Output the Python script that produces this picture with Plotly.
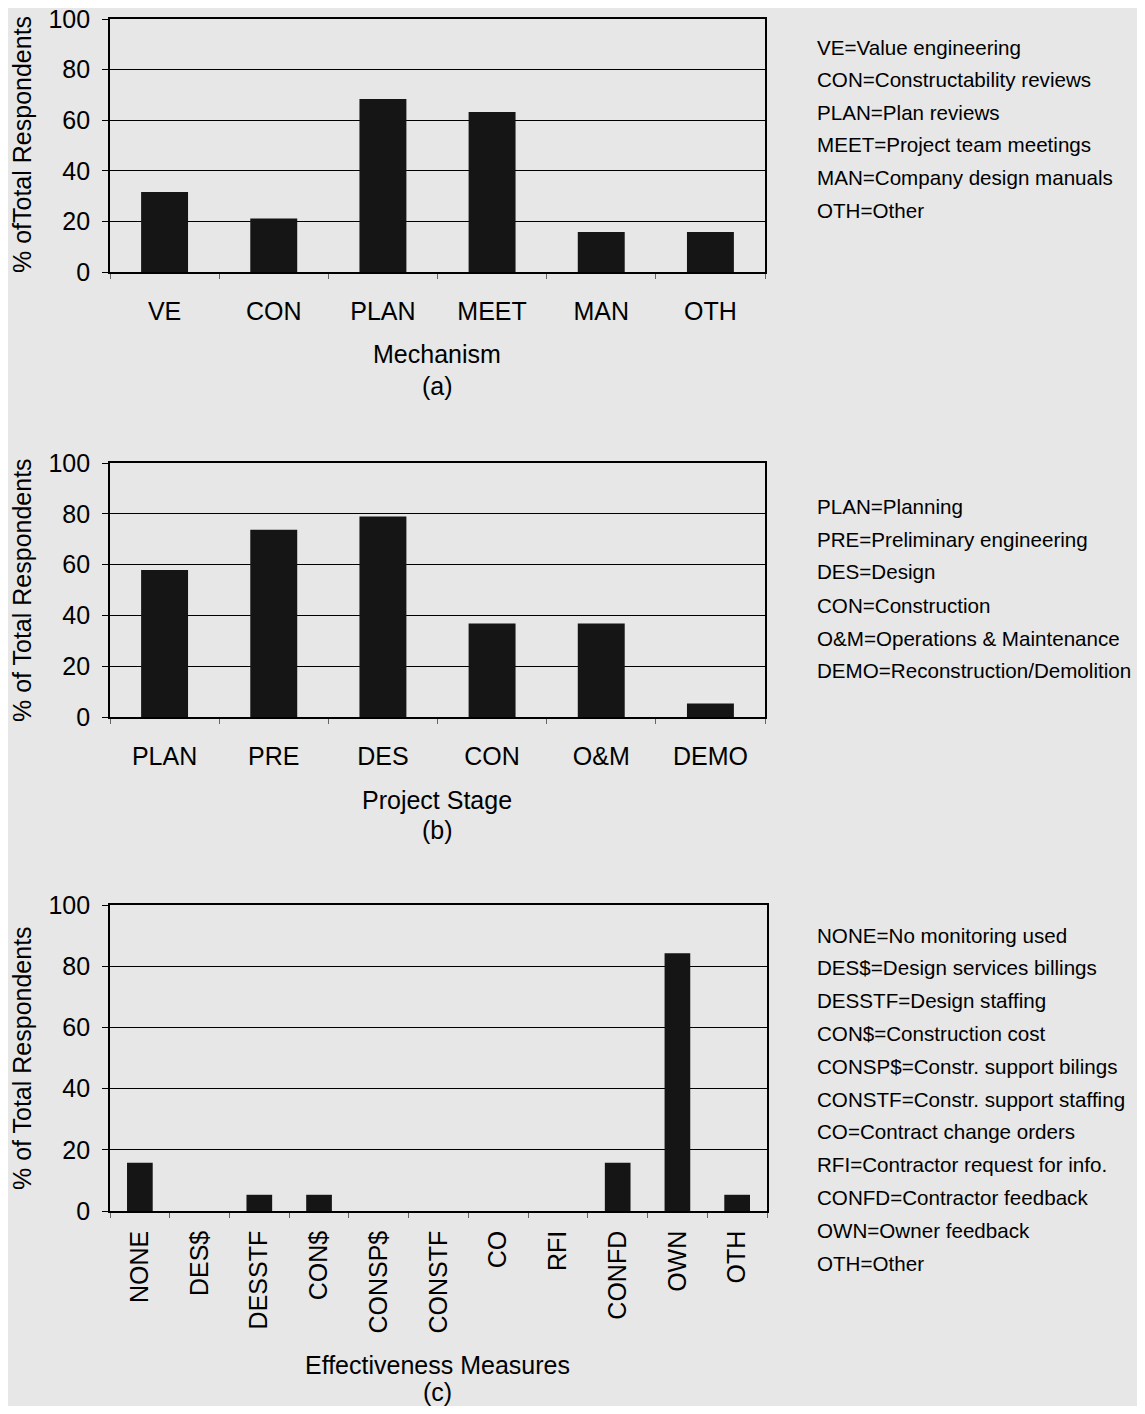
import plotly.graph_objects as go

# ---------------- data ----------------
mech_cats = ["VE", "CON", "PLAN", "MEET", "MAN", "OTH"]
mech_vals = [31.6, 21.1, 68.4, 63.2, 15.8, 15.8]
mech_legend = ["VE=Value engineering", "CON=Constructability reviews", "PLAN=Plan reviews",
               "MEET=Project team meetings", "MAN=Company design manuals", "OTH=Other"]

stage_cats = ["PLAN", "PRE", "DES", "CON", "O&M", "DEMO"]
stage_vals = [57.9, 73.7, 78.9, 36.8, 36.8, 5.3]
stage_legend = ["PLAN=Planning", "PRE=Preliminary engineering", "DES=Design", "CON=Construction",
                "O&M=Operations & Maintenance", "DEMO=Reconstruction/Demolition"]

eff_cats = ["NONE", "DES$", "DESSTF", "CON$", "CONSP$", "CONSTF", "CO", "RFI", "CONFD", "OWN", "OTH"]
eff_vals = [15.8, 0, 5.3, 5.3, 0, 0, 0, 0, 15.8, 84.2, 5.3]
eff_legend = ["NONE=No monitoring used", "DES$=Design services billings", "DESSTF=Design staffing",
              "CON$=Construction cost", "CONSP$=Constr. support bilings", "CONSTF=Constr. support staffing",
              "CO=Contract change orders", "RFI=Contractor request for info.", "CONFD=Contractor feedback",
              "OWN=Owner feedback", "OTH=Other"]

y_ticks = [0, 20, 40, 60, 80, 100]

OFF = 8                      # page body margin
W, H = 1145 - 2 * OFF, 1414 - 2 * OFF
BG = "#e6e7e6"
FONT = "Arial, Liberation Sans, sans-serif"
BAR = "#151515"


def px_x(p):
    return (p - OFF) / W


def px_y(p):
    return 1 - (p - OFF) / H


panels = [
    dict(cats=mech_cats, vals=mech_vals, legend=mech_legend, box=(110, 765, 19, 272),
         ytitle="% ofTotal Respondents", xtitle="Mechanism", tag="(a)", xt_y=354, tag_y=386,
         leg_y0=47, leg_dy=32.6, angle=0, ytitle_y=145),
    dict(cats=stage_cats, vals=stage_vals, legend=stage_legend, box=(110, 765, 463, 717),
         ytitle="% of Total Respondents", xtitle="Project Stage", tag="(b)", xt_y=800, tag_y=830,
         leg_y0=506, leg_dy=33.0, angle=0, ytitle_y=590),
    dict(cats=eff_cats, vals=eff_vals, legend=eff_legend, box=(110, 767, 905, 1211),
         ytitle="% of Total Respondents", xtitle="Effectiveness Measures", tag="(c)", xt_y=1365, tag_y=1392,
         leg_y0=935, leg_dy=32.8, angle=-90, ytitle_y=1058),
]

fig = go.Figure()
annotations = []
for i, p in enumerate(panels):
    n = "" if i == 0 else str(i + 1)
    x0, x1, y0, y1 = p["box"]
    fig.add_trace(go.Bar(x=p["cats"], y=p["vals"], marker=dict(color=BAR, line=dict(width=0)),
                         width=0.43, xaxis="x" + n, yaxis="y" + n, showlegend=False))
    fig.update_layout(**{
        "xaxis" + n: dict(domain=[px_x(x0), px_x(x1)], anchor="y" + n, showline=True, mirror=True,
                          linecolor="black", linewidth=1.5, showgrid=False, ticks="outside",
                          tickson="boundaries", ticklen=5, tickcolor="#666", tickangle=p["angle"],
                          ticklabelstandoff=(16 if p["angle"] == 0 else 8), automargin=False,
                          ticklabeloverflow="allow",
                          tickfont=dict(family=FONT, size=25, color="black"), fixedrange=True),
        "yaxis" + n: dict(domain=[px_y(y1), px_y(y0)], anchor="x" + n, range=[0, 100],
                          tickvals=y_ticks, showline=True, mirror=True, linecolor="black", linewidth=1.8,
                          showgrid=True, gridcolor="black", gridwidth=1.2, zeroline=False,
                          ticks="outside", ticklen=6, tickcolor="black", ticklabelstandoff=7,
                          automargin=False, ticklabeloverflow="allow",
                          tickfont=dict(family=FONT, size=25, color="black"), fixedrange=True),
    })
    annotations.append(dict(text=p["xtitle"], x=px_x(437), y=px_y(p["xt_y"]), xref="paper", yref="paper",
                            showarrow=False, xanchor="center", yanchor="middle",
                            font=dict(family=FONT, size=25, color="black")))
    annotations.append(dict(text=p["tag"], x=px_x(437), y=px_y(p["tag_y"]), xref="paper", yref="paper",
                            showarrow=False, xanchor="center", yanchor="middle",
                            font=dict(family=FONT, size=25, color="black")))
    annotations.append(dict(text=p["ytitle"], x=px_x(22), y=px_y(p["ytitle_y"]), xref="paper", yref="paper",
                            showarrow=False, xanchor="center", yanchor="middle", textangle=-90,
                            font=dict(family=FONT, size=25, color="black")))
    for k, t in enumerate(p["legend"]):
        annotations.append(dict(text=t, x=px_x(815), y=px_y(p["leg_y0"] + k * p["leg_dy"]),
                                xref="paper", yref="paper", showarrow=False, xanchor="left",
                                yanchor="middle", font=dict(family=FONT, size=20.6, color="black")))

fig.update_layout(width=W, height=H, margin=dict(l=0, r=0, t=0, b=0, autoexpand=False),
                  paper_bgcolor=BG, plot_bgcolor=BG, annotations=annotations, bargap=0.57,
                  showlegend=False)

fig.write_html("out.html", config={"displayModeBar": False})
